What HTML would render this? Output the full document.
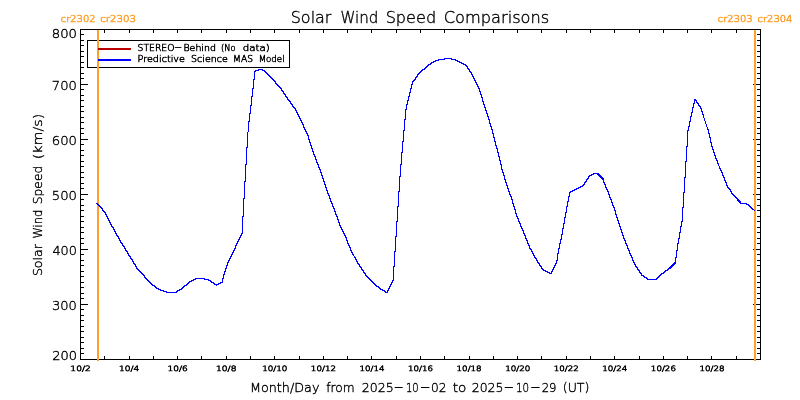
<!DOCTYPE html>
<html lang="en"><head><meta charset="utf-8"><title>Solar Wind Speed Comparisons</title>
<style>
html,body{margin:0;padding:0;background:#fff;}
body{width:800px;height:400px;overflow:hidden;}
svg{display:block;}
text{font-family:"DejaVu Sans","Liberation Sans",sans-serif;font-weight:200;fill:#000;stroke:#000;}
.o{fill:#ffa02c;stroke:#ffa02c;}
</style></head><body>
<svg width="800" height="400" viewBox="0 0 800 400">
<rect x="0" y="0" width="800" height="400" fill="#fff"/>
<g shape-rendering="crispEdges">
<rect x="80" y="29" width="681" height="1" fill="#000"/>
<rect x="80" y="359" width="681" height="1" fill="#000"/>
<rect x="80" y="29" width="1" height="331" fill="#000"/>
<rect x="760" y="29" width="1" height="331" fill="#000"/>
<rect x="104" y="356" width="1" height="3" fill="#000"/>
<rect x="104" y="30" width="1" height="3" fill="#000"/>
<rect x="129" y="356" width="1" height="3" fill="#000"/>
<rect x="129" y="30" width="1" height="3" fill="#000"/>
<rect x="153" y="356" width="1" height="3" fill="#000"/>
<rect x="153" y="30" width="1" height="3" fill="#000"/>
<rect x="177" y="356" width="1" height="3" fill="#000"/>
<rect x="177" y="30" width="1" height="3" fill="#000"/>
<rect x="201" y="356" width="1" height="3" fill="#000"/>
<rect x="201" y="30" width="1" height="3" fill="#000"/>
<rect x="226" y="356" width="1" height="3" fill="#000"/>
<rect x="226" y="30" width="1" height="3" fill="#000"/>
<rect x="250" y="356" width="1" height="3" fill="#000"/>
<rect x="250" y="30" width="1" height="3" fill="#000"/>
<rect x="274" y="356" width="1" height="3" fill="#000"/>
<rect x="274" y="30" width="1" height="3" fill="#000"/>
<rect x="299" y="356" width="1" height="3" fill="#000"/>
<rect x="299" y="30" width="1" height="3" fill="#000"/>
<rect x="323" y="356" width="1" height="3" fill="#000"/>
<rect x="323" y="30" width="1" height="3" fill="#000"/>
<rect x="347" y="356" width="1" height="3" fill="#000"/>
<rect x="347" y="30" width="1" height="3" fill="#000"/>
<rect x="371" y="356" width="1" height="3" fill="#000"/>
<rect x="371" y="30" width="1" height="3" fill="#000"/>
<rect x="396" y="356" width="1" height="3" fill="#000"/>
<rect x="396" y="30" width="1" height="3" fill="#000"/>
<rect x="420" y="356" width="1" height="3" fill="#000"/>
<rect x="420" y="30" width="1" height="3" fill="#000"/>
<rect x="444" y="356" width="1" height="3" fill="#000"/>
<rect x="444" y="30" width="1" height="3" fill="#000"/>
<rect x="469" y="356" width="1" height="3" fill="#000"/>
<rect x="469" y="30" width="1" height="3" fill="#000"/>
<rect x="493" y="356" width="1" height="3" fill="#000"/>
<rect x="493" y="30" width="1" height="3" fill="#000"/>
<rect x="517" y="356" width="1" height="3" fill="#000"/>
<rect x="517" y="30" width="1" height="3" fill="#000"/>
<rect x="541" y="356" width="1" height="3" fill="#000"/>
<rect x="541" y="30" width="1" height="3" fill="#000"/>
<rect x="566" y="356" width="1" height="3" fill="#000"/>
<rect x="566" y="30" width="1" height="3" fill="#000"/>
<rect x="590" y="356" width="1" height="3" fill="#000"/>
<rect x="590" y="30" width="1" height="3" fill="#000"/>
<rect x="614" y="356" width="1" height="3" fill="#000"/>
<rect x="614" y="30" width="1" height="3" fill="#000"/>
<rect x="639" y="356" width="1" height="3" fill="#000"/>
<rect x="639" y="30" width="1" height="3" fill="#000"/>
<rect x="663" y="356" width="1" height="3" fill="#000"/>
<rect x="663" y="30" width="1" height="3" fill="#000"/>
<rect x="687" y="356" width="1" height="3" fill="#000"/>
<rect x="687" y="30" width="1" height="3" fill="#000"/>
<rect x="711" y="356" width="1" height="3" fill="#000"/>
<rect x="711" y="30" width="1" height="3" fill="#000"/>
<rect x="736" y="356" width="1" height="3" fill="#000"/>
<rect x="736" y="30" width="1" height="3" fill="#000"/>
<rect x="81" y="34" width="3" height="1" fill="#000"/>
<rect x="757" y="34" width="3" height="1" fill="#000"/>
<rect x="81" y="40" width="3" height="1" fill="#000"/>
<rect x="757" y="40" width="3" height="1" fill="#000"/>
<rect x="81" y="45" width="3" height="1" fill="#000"/>
<rect x="757" y="45" width="3" height="1" fill="#000"/>
<rect x="81" y="51" width="3" height="1" fill="#000"/>
<rect x="757" y="51" width="3" height="1" fill="#000"/>
<rect x="81" y="56" width="3" height="1" fill="#000"/>
<rect x="757" y="56" width="3" height="1" fill="#000"/>
<rect x="81" y="62" width="3" height="1" fill="#000"/>
<rect x="757" y="62" width="3" height="1" fill="#000"/>
<rect x="81" y="67" width="3" height="1" fill="#000"/>
<rect x="757" y="67" width="3" height="1" fill="#000"/>
<rect x="81" y="73" width="3" height="1" fill="#000"/>
<rect x="757" y="73" width="3" height="1" fill="#000"/>
<rect x="81" y="78" width="3" height="1" fill="#000"/>
<rect x="757" y="78" width="3" height="1" fill="#000"/>
<rect x="81" y="84" width="7" height="1" fill="#000"/>
<rect x="753" y="84" width="7" height="1" fill="#000"/>
<rect x="81" y="89" width="3" height="1" fill="#000"/>
<rect x="757" y="89" width="3" height="1" fill="#000"/>
<rect x="81" y="95" width="3" height="1" fill="#000"/>
<rect x="757" y="95" width="3" height="1" fill="#000"/>
<rect x="81" y="100" width="3" height="1" fill="#000"/>
<rect x="757" y="100" width="3" height="1" fill="#000"/>
<rect x="81" y="106" width="3" height="1" fill="#000"/>
<rect x="757" y="106" width="3" height="1" fill="#000"/>
<rect x="81" y="111" width="3" height="1" fill="#000"/>
<rect x="757" y="111" width="3" height="1" fill="#000"/>
<rect x="81" y="117" width="3" height="1" fill="#000"/>
<rect x="757" y="117" width="3" height="1" fill="#000"/>
<rect x="81" y="122" width="3" height="1" fill="#000"/>
<rect x="757" y="122" width="3" height="1" fill="#000"/>
<rect x="81" y="128" width="3" height="1" fill="#000"/>
<rect x="757" y="128" width="3" height="1" fill="#000"/>
<rect x="81" y="133" width="3" height="1" fill="#000"/>
<rect x="757" y="133" width="3" height="1" fill="#000"/>
<rect x="81" y="139" width="7" height="1" fill="#000"/>
<rect x="753" y="139" width="7" height="1" fill="#000"/>
<rect x="81" y="144" width="3" height="1" fill="#000"/>
<rect x="757" y="144" width="3" height="1" fill="#000"/>
<rect x="81" y="150" width="3" height="1" fill="#000"/>
<rect x="757" y="150" width="3" height="1" fill="#000"/>
<rect x="81" y="155" width="3" height="1" fill="#000"/>
<rect x="757" y="155" width="3" height="1" fill="#000"/>
<rect x="81" y="161" width="3" height="1" fill="#000"/>
<rect x="757" y="161" width="3" height="1" fill="#000"/>
<rect x="81" y="166" width="3" height="1" fill="#000"/>
<rect x="757" y="166" width="3" height="1" fill="#000"/>
<rect x="81" y="172" width="3" height="1" fill="#000"/>
<rect x="757" y="172" width="3" height="1" fill="#000"/>
<rect x="81" y="177" width="3" height="1" fill="#000"/>
<rect x="757" y="177" width="3" height="1" fill="#000"/>
<rect x="81" y="183" width="3" height="1" fill="#000"/>
<rect x="757" y="183" width="3" height="1" fill="#000"/>
<rect x="81" y="188" width="3" height="1" fill="#000"/>
<rect x="757" y="188" width="3" height="1" fill="#000"/>
<rect x="81" y="194" width="7" height="1" fill="#000"/>
<rect x="753" y="194" width="7" height="1" fill="#000"/>
<rect x="81" y="199" width="3" height="1" fill="#000"/>
<rect x="757" y="199" width="3" height="1" fill="#000"/>
<rect x="81" y="205" width="3" height="1" fill="#000"/>
<rect x="757" y="205" width="3" height="1" fill="#000"/>
<rect x="81" y="210" width="3" height="1" fill="#000"/>
<rect x="757" y="210" width="3" height="1" fill="#000"/>
<rect x="81" y="216" width="3" height="1" fill="#000"/>
<rect x="757" y="216" width="3" height="1" fill="#000"/>
<rect x="81" y="221" width="3" height="1" fill="#000"/>
<rect x="757" y="221" width="3" height="1" fill="#000"/>
<rect x="81" y="227" width="3" height="1" fill="#000"/>
<rect x="757" y="227" width="3" height="1" fill="#000"/>
<rect x="81" y="232" width="3" height="1" fill="#000"/>
<rect x="757" y="232" width="3" height="1" fill="#000"/>
<rect x="81" y="238" width="3" height="1" fill="#000"/>
<rect x="757" y="238" width="3" height="1" fill="#000"/>
<rect x="81" y="243" width="3" height="1" fill="#000"/>
<rect x="757" y="243" width="3" height="1" fill="#000"/>
<rect x="81" y="249" width="7" height="1" fill="#000"/>
<rect x="753" y="249" width="7" height="1" fill="#000"/>
<rect x="81" y="254" width="3" height="1" fill="#000"/>
<rect x="757" y="254" width="3" height="1" fill="#000"/>
<rect x="81" y="260" width="3" height="1" fill="#000"/>
<rect x="757" y="260" width="3" height="1" fill="#000"/>
<rect x="81" y="265" width="3" height="1" fill="#000"/>
<rect x="757" y="265" width="3" height="1" fill="#000"/>
<rect x="81" y="271" width="3" height="1" fill="#000"/>
<rect x="757" y="271" width="3" height="1" fill="#000"/>
<rect x="81" y="276" width="3" height="1" fill="#000"/>
<rect x="757" y="276" width="3" height="1" fill="#000"/>
<rect x="81" y="282" width="3" height="1" fill="#000"/>
<rect x="757" y="282" width="3" height="1" fill="#000"/>
<rect x="81" y="287" width="3" height="1" fill="#000"/>
<rect x="757" y="287" width="3" height="1" fill="#000"/>
<rect x="81" y="293" width="3" height="1" fill="#000"/>
<rect x="757" y="293" width="3" height="1" fill="#000"/>
<rect x="81" y="298" width="3" height="1" fill="#000"/>
<rect x="757" y="298" width="3" height="1" fill="#000"/>
<rect x="81" y="304" width="7" height="1" fill="#000"/>
<rect x="753" y="304" width="7" height="1" fill="#000"/>
<rect x="81" y="309" width="3" height="1" fill="#000"/>
<rect x="757" y="309" width="3" height="1" fill="#000"/>
<rect x="81" y="315" width="3" height="1" fill="#000"/>
<rect x="757" y="315" width="3" height="1" fill="#000"/>
<rect x="81" y="320" width="3" height="1" fill="#000"/>
<rect x="757" y="320" width="3" height="1" fill="#000"/>
<rect x="81" y="326" width="3" height="1" fill="#000"/>
<rect x="757" y="326" width="3" height="1" fill="#000"/>
<rect x="81" y="331" width="3" height="1" fill="#000"/>
<rect x="757" y="331" width="3" height="1" fill="#000"/>
<rect x="81" y="337" width="3" height="1" fill="#000"/>
<rect x="757" y="337" width="3" height="1" fill="#000"/>
<rect x="81" y="342" width="3" height="1" fill="#000"/>
<rect x="757" y="342" width="3" height="1" fill="#000"/>
<rect x="81" y="348" width="3" height="1" fill="#000"/>
<rect x="757" y="348" width="3" height="1" fill="#000"/>
<rect x="81" y="353" width="3" height="1" fill="#000"/>
<rect x="757" y="353" width="3" height="1" fill="#000"/>
<rect x="87" y="40" width="203" height="1" fill="#000"/>
<rect x="87" y="67" width="203" height="1" fill="#000"/>
<rect x="87" y="40" width="1" height="28" fill="#000"/>
<rect x="289" y="40" width="1" height="28" fill="#000"/>
<rect x="97" y="30" width="2" height="331" fill="#ffa02c"/>
<rect x="754" y="30" width="2" height="331" fill="#ffa02c"/>
<rect x="98" y="48" width="33" height="2" fill="#bb0000"/>
<rect x="98" y="59" width="33" height="2" fill="#0000ff"/>
<path fill="#0000ff" d="M96 203h2v1h-2zM97 204h2v1h-2zM98 205h2v1h-2zM99 206h2v1h-2zM100 207h2v1h-2zM101 208h1v1h-1zM102 208h1v3h-1zM103 210h1v1h-1zM103 211h2v1h-2zM104 212h1v1h-1zM105 212h1v3h-1zM106 214h1v3h-1zM107 216h1v3h-1zM108 218h1v3h-1zM109 220h1v3h-1zM110 222h1v3h-1zM111 224h1v3h-1zM112 226h1v1h-1zM112 227h1v1h-1zM113 227h1v3h-1zM114 229h1v3h-1zM115 231h1v3h-1zM116 233h1v3h-1zM117 235h1v1h-1zM117 236h1v1h-1zM118 236h1v3h-1zM119 238h1v3h-1zM120 240h1v3h-1zM121 242h1v1h-1zM121 243h1v1h-1zM122 243h1v3h-1zM123 245h1v1h-1zM123 246h1v1h-1zM124 246h1v3h-1zM125 248h1v3h-1zM126 250h1v1h-1zM126 251h1v1h-1zM127 251h1v3h-1zM128 253h1v3h-1zM129 255h1v1h-1zM129 256h1v1h-1zM130 256h1v3h-1zM131 258h1v1h-1zM131 259h1v1h-1zM132 259h1v3h-1zM133 261h1v3h-1zM134 263h1v1h-1zM134 264h1v1h-1zM135 264h1v3h-1zM136 266h1v3h-1zM137 268h1v1h-1zM137 269h2v1h-2zM138 270h2v1h-2zM139 271h2v1h-2zM140 272h2v1h-2zM141 273h2v1h-2zM142 274h2v1h-2zM143 275h1v1h-1zM144 275h1v3h-1zM145 277h1v1h-1zM145 278h2v1h-2zM146 279h2v1h-2zM147 280h2v1h-2zM148 281h2v1h-2zM149 282h2v1h-2zM150 283h2v1h-2zM151 284h2v1h-2zM152 285h3v1h-3zM154 286h2v1h-2zM155 287h2v1h-2zM156 288h3v1h-3zM158 289h3v1h-3zM160 290h4v1h-4zM163 291h4v1h-4zM166 292h11v1h-11zM176 291h2v1h-2zM177 290h3v1h-3zM179 289h3v1h-3zM181 288h2v1h-2zM182 287h2v1h-2zM183 286h2v1h-2zM184 285h3v1h-3zM186 284h2v1h-2zM187 283h2v1h-2zM188 282h2v1h-2zM189 281h3v1h-3zM191 280h3v1h-3zM193 279h3v1h-3zM195 278h10v1h-10zM204 279h5v1h-5zM208 280h3v1h-3zM210 281h2v1h-2zM211 282h3v1h-3zM213 283h2v1h-2zM214 284h5v1h-5zM216 285h1v1h-1zM218 283h3v1h-3zM220 282h2v1h-2zM222 278h1v5h-1zM223 274h1v5h-1zM224 271h1v4h-1zM225 268h1v4h-1zM226 265h1v4h-1zM227 262h1v4h-1zM228 260h1v3h-1zM229 258h1v3h-1zM230 256h1v3h-1zM231 254h1v3h-1zM232 252h1v3h-1zM233 250h1v3h-1zM234 248h1v3h-1zM235 245h1v4h-1zM236 243h1v3h-1zM237 241h1v3h-1zM238 239h1v3h-1zM239 237h1v3h-1zM240 235h1v3h-1zM241 233h1v3h-1zM242 216h1v18h-1zM243 198h1v19h-1zM244 181h1v18h-1zM245 164h1v18h-1zM246 147h1v18h-1zM247 132h1v16h-1zM248 121h1v11h-1zM249 113h1v9h-1zM250 105h1v9h-1zM251 96h1v10h-1zM252 88h1v9h-1zM253 79h1v10h-1zM254 71h1v9h-1zM255 70h4v1h-4zM255 71h1v1h-1zM258 69h5v1h-5zM262 70h3v1h-3zM264 71h2v1h-2zM265 72h2v1h-2zM266 73h2v1h-2zM267 74h2v1h-2zM268 75h2v1h-2zM269 76h2v1h-2zM270 77h2v1h-2zM271 78h2v1h-2zM272 79h2v1h-2zM273 80h2v1h-2zM274 81h1v1h-1zM275 81h1v3h-1zM276 83h1v1h-1zM276 84h2v1h-2zM277 85h2v1h-2zM278 86h2v1h-2zM279 87h2v1h-2zM280 88h1v1h-1zM281 88h1v3h-1zM282 90h1v1h-1zM282 91h1v1h-1zM283 91h1v3h-1zM284 93h1v1h-1zM284 94h1v1h-1zM285 94h1v3h-1zM286 96h1v1h-1zM286 97h1v1h-1zM287 97h1v3h-1zM288 99h1v1h-1zM288 100h2v1h-2zM289 101h1v1h-1zM290 101h1v3h-1zM291 103h1v1h-1zM291 104h1v1h-1zM292 104h1v3h-1zM293 106h1v1h-1zM293 107h2v1h-2zM294 108h1v1h-1zM295 108h1v3h-1zM296 110h1v3h-1zM297 112h1v3h-1zM298 114h1v3h-1zM299 116h1v3h-1zM300 118h1v3h-1zM301 120h1v3h-1zM302 122h1v3h-1zM303 124h1v4h-1zM304 127h1v3h-1zM305 129h1v3h-1zM306 131h1v3h-1zM307 133h1v3h-1zM308 135h1v5h-1zM309 139h1v4h-1zM310 142h1v4h-1zM311 145h1v4h-1zM312 148h1v4h-1zM313 151h1v4h-1zM314 154h1v3h-1zM315 156h1v4h-1zM316 159h1v4h-1zM317 162h1v3h-1zM318 164h1v4h-1zM319 167h1v3h-1zM320 169h1v4h-1zM321 172h1v4h-1zM322 175h1v4h-1zM323 178h1v4h-1zM324 181h1v4h-1zM325 184h1v4h-1zM326 187h1v4h-1zM327 190h1v4h-1zM328 193h1v3h-1zM329 195h1v4h-1zM330 198h1v4h-1zM331 201h1v3h-1zM332 203h1v4h-1zM333 206h1v3h-1zM334 208h1v4h-1zM335 211h1v4h-1zM336 214h1v3h-1zM337 216h1v4h-1zM338 219h1v4h-1zM339 222h1v4h-1zM340 225h1v3h-1zM341 227h1v3h-1zM342 229h1v3h-1zM343 231h1v3h-1zM344 233h1v3h-1zM345 235h1v3h-1zM346 237h1v4h-1zM347 240h1v4h-1zM348 243h1v3h-1zM349 245h1v3h-1zM350 247h1v4h-1zM351 250h1v3h-1zM352 252h1v3h-1zM353 254h1v1h-1zM353 255h1v1h-1zM354 256h1v1h-1zM354 257h1v1h-1zM355 257h1v3h-1zM356 259h1v3h-1zM357 261h1v3h-1zM358 263h1v1h-1zM358 264h1v1h-1zM359 264h1v3h-1zM360 266h1v1h-1zM360 267h1v1h-1zM361 267h1v3h-1zM362 269h1v1h-1zM362 270h1v1h-1zM363 270h1v3h-1zM364 272h1v1h-1zM364 273h1v1h-1zM365 273h1v3h-1zM366 275h1v1h-1zM366 276h2v1h-2zM367 277h2v1h-2zM368 278h2v1h-2zM369 279h2v1h-2zM370 280h2v1h-2zM371 281h2v1h-2zM372 282h2v1h-2zM373 283h2v1h-2zM374 284h2v1h-2zM375 285h2v1h-2zM376 286h3v1h-3zM378 287h2v1h-2zM379 288h2v1h-2zM380 289h3v1h-3zM382 290h3v1h-3zM384 291h2v1h-2zM385 292h2v1h-2zM387 290h1v3h-1zM388 288h1v3h-1zM389 286h1v3h-1zM390 284h1v3h-1zM391 282h1v3h-1zM392 280h1v3h-1zM393 266h1v15h-1zM394 251h1v16h-1zM395 236h1v16h-1zM396 221h1v16h-1zM397 206h1v16h-1zM398 191h1v16h-1zM399 176h1v16h-1zM400 164h1v13h-1zM401 152h1v13h-1zM402 141h1v12h-1zM403 130h1v12h-1zM404 119h1v12h-1zM405 109h1v11h-1zM406 104h1v6h-1zM407 100h1v5h-1zM408 96h1v5h-1zM409 92h1v5h-1zM410 88h1v5h-1zM411 84h1v5h-1zM412 81h1v4h-1zM413 80h2v1h-2zM413 81h1v1h-1zM414 79h1v1h-1zM415 77h1v3h-1zM416 76h1v1h-1zM416 77h1v1h-1zM417 74h1v3h-1zM418 73h2v1h-2zM418 74h1v1h-1zM419 72h2v1h-2zM420 71h2v1h-2zM421 70h2v1h-2zM422 69h3v1h-3zM424 68h2v1h-2zM425 67h2v1h-2zM426 66h2v1h-2zM427 65h2v1h-2zM428 64h3v1h-3zM430 63h2v1h-2zM431 62h3v1h-3zM433 61h3v1h-3zM435 60h4v1h-4zM438 59h7v1h-7zM444 58h8v1h-8zM451 59h5v1h-5zM455 60h3v1h-3zM457 61h3v1h-3zM459 62h3v1h-3zM461 63h3v1h-3zM463 64h3v1h-3zM465 65h2v1h-2zM466 66h1v1h-1zM467 66h1v3h-1zM468 68h1v1h-1zM468 69h1v1h-1zM469 69h1v3h-1zM470 71h1v1h-1zM470 72h1v1h-1zM471 72h1v3h-1zM472 74h1v3h-1zM473 76h1v3h-1zM474 78h1v3h-1zM475 80h1v3h-1zM476 82h1v3h-1zM477 84h1v3h-1zM478 86h1v3h-1zM479 88h1v4h-1zM480 91h1v4h-1zM481 94h1v4h-1zM482 97h1v5h-1zM483 101h1v4h-1zM484 104h1v4h-1zM485 107h1v4h-1zM486 110h1v4h-1zM487 113h1v4h-1zM488 116h1v4h-1zM489 119h1v5h-1zM490 123h1v4h-1zM491 126h1v4h-1zM492 129h1v5h-1zM493 133h1v5h-1zM494 137h1v5h-1zM495 141h1v5h-1zM496 145h1v4h-1zM497 148h1v5h-1zM498 152h1v5h-1zM499 156h1v5h-1zM500 160h1v5h-1zM501 164h1v6h-1zM502 169h1v4h-1zM503 172h1v4h-1zM504 175h1v5h-1zM505 179h1v4h-1zM506 182h1v4h-1zM507 185h1v4h-1zM508 188h1v4h-1zM509 191h1v4h-1zM510 194h1v3h-1zM511 196h1v4h-1zM512 199h1v5h-1zM513 203h1v4h-1zM514 206h1v4h-1zM515 209h1v5h-1zM516 213h1v4h-1zM517 216h1v3h-1zM518 218h1v4h-1zM519 221h1v3h-1zM520 223h1v4h-1zM521 226h1v3h-1zM522 228h1v3h-1zM523 230h1v4h-1zM524 233h1v3h-1zM525 235h1v4h-1zM526 238h1v3h-1zM527 240h1v4h-1zM528 243h1v3h-1zM529 245h1v4h-1zM530 248h1v1h-1zM530 249h1v1h-1zM531 249h1v3h-1zM532 251h1v3h-1zM533 253h1v3h-1zM534 255h1v3h-1zM535 257h1v1h-1zM535 258h1v1h-1zM536 258h1v3h-1zM537 260h1v3h-1zM538 262h1v1h-1zM538 263h1v1h-1zM539 263h1v3h-1zM540 265h1v1h-1zM540 266h1v1h-1zM541 266h1v3h-1zM542 268h1v1h-1zM542 269h2v1h-2zM543 270h3v1h-3zM545 271h3v1h-3zM547 272h3v1h-3zM549 273h2v1h-2zM551 271h1v3h-1zM552 269h1v3h-1zM553 267h1v3h-1zM554 265h1v3h-1zM555 263h1v3h-1zM556 260h1v4h-1zM557 253h1v8h-1zM558 248h1v6h-1zM559 243h1v6h-1zM560 239h1v5h-1zM561 234h1v6h-1zM562 228h1v7h-1zM563 223h1v6h-1zM564 217h1v7h-1zM565 212h1v6h-1zM566 206h1v7h-1zM567 201h1v6h-1zM568 196h1v6h-1zM569 192h1v5h-1zM570 191h3v1h-3zM570 192h1v1h-1zM572 190h3v1h-3zM574 189h3v1h-3zM576 188h3v1h-3zM578 187h3v1h-3zM580 186h3v1h-3zM582 185h2v1h-2zM583 184h1v1h-1zM584 182h1v3h-1zM585 181h1v1h-1zM585 182h1v1h-1zM586 179h1v3h-1zM587 178h1v1h-1zM587 179h1v1h-1zM588 176h1v3h-1zM589 175h3v1h-3zM589 176h1v1h-1zM591 174h3v1h-3zM593 173h5v1h-5zM597 174h1v1h-1zM598 173h1v3h-1zM599 174h1v3h-1zM600 175h1v3h-1zM601 176h1v3h-1zM602 177h1v3h-1zM603 178h1v5h-1zM604 182h1v3h-1zM605 184h1v4h-1zM606 187h1v3h-1zM607 189h1v3h-1zM608 191h1v4h-1zM609 194h1v4h-1zM610 197h1v3h-1zM611 199h1v4h-1zM612 202h1v4h-1zM613 205h1v3h-1zM614 207h1v4h-1zM615 210h1v5h-1zM616 214h1v4h-1zM617 217h1v4h-1zM618 220h1v4h-1zM619 223h1v4h-1zM620 226h1v4h-1zM621 229h1v4h-1zM622 232h1v4h-1zM623 235h1v4h-1zM624 238h1v3h-1zM625 240h1v4h-1zM626 243h1v3h-1zM627 245h1v4h-1zM628 248h1v3h-1zM629 250h1v4h-1zM630 253h1v3h-1zM631 255h1v3h-1zM632 257h1v4h-1zM633 260h1v3h-1zM634 262h1v3h-1zM635 264h1v3h-1zM636 266h1v1h-1zM636 267h1v1h-1zM637 267h1v3h-1zM638 269h1v1h-1zM638 270h1v1h-1zM639 270h1v3h-1zM640 272h1v1h-1zM640 273h1v1h-1zM641 273h1v3h-1zM642 275h2v1h-2zM643 276h2v1h-2zM644 277h3v1h-3zM646 278h2v1h-2zM647 279h10v1h-10zM656 278h2v1h-2zM657 277h2v1h-2zM658 276h2v1h-2zM659 275h2v1h-2zM660 274h2v1h-2zM661 273h3v1h-3zM663 272h2v1h-2zM664 271h2v1h-2zM665 270h3v1h-3zM667 269h2v1h-2zM668 268h2v1h-2zM669 267h1v1h-1zM670 266h1v3h-1zM671 265h1v3h-1zM672 264h1v3h-1zM673 263h1v3h-1zM674 262h1v3h-1zM675 257h1v7h-1zM676 250h1v8h-1zM677 243h1v8h-1zM678 238h1v6h-1zM679 232h1v7h-1zM680 226h1v7h-1zM681 221h1v6h-1zM682 207h1v15h-1zM683 192h1v16h-1zM684 177h1v16h-1zM685 161h1v17h-1zM686 146h1v16h-1zM687 130h1v17h-1zM688 126h1v5h-1zM689 121h1v6h-1zM690 116h1v6h-1zM691 112h1v5h-1zM692 107h1v6h-1zM693 103h1v5h-1zM694 99h1v5h-1zM695 99h1v1h-1zM695 100h1v1h-1zM696 100h1v3h-1zM697 102h1v1h-1zM697 103h1v1h-1zM698 103h1v3h-1zM699 105h1v1h-1zM699 106h1v1h-1zM700 106h1v3h-1zM701 108h1v4h-1zM702 111h1v4h-1zM703 114h1v4h-1zM704 118h1v3h-1zM705 121h1v3h-1zM706 124h1v3h-1zM707 127h1v3h-1zM708 129h1v5h-1zM709 133h1v5h-1zM710 137h1v6h-1zM711 142h1v5h-1zM712 146h1v4h-1zM713 149h1v4h-1zM714 152h1v4h-1zM715 155h1v4h-1zM716 158h1v3h-1zM717 160h1v4h-1zM718 163h1v3h-1zM719 166h1v3h-1zM720 168h1v3h-1zM721 170h1v3h-1zM722 172h1v4h-1zM723 175h1v3h-1zM724 177h1v4h-1zM725 180h1v3h-1zM726 182h1v4h-1zM727 185h1v3h-1zM728 187h1v1h-1zM728 188h2v1h-2zM729 189h1v1h-1zM730 189h1v3h-1zM731 191h1v3h-1zM732 193h1v1h-1zM732 194h2v1h-2zM733 195h2v1h-2zM734 196h2v1h-2zM735 197h2v1h-2zM736 198h1v1h-1zM737 198h1v3h-1zM738 199h1v3h-1zM739 200h1v3h-1zM740 201h1v3h-1zM741 203h6v1h-6zM746 204h3v1h-3zM748 205h2v1h-2zM749 206h2v1h-2zM750 207h2v1h-2zM751 208h2v1h-2zM752 209h2v1h-2zM754 210h1v1h-1z"/>
</g>
<g>
<text font-size="15.94" stroke-width="0.38"><tspan x="290.76" y="22.81" textLength="40.65" lengthAdjust="spacingAndGlyphs">Solar</tspan> <tspan x="340.39" y="22.81" textLength="37.91" lengthAdjust="spacingAndGlyphs">Wind</tspan> <tspan x="385.65" y="22.81" textLength="50.55" lengthAdjust="spacingAndGlyphs">Speed</tspan> <tspan x="443.69" y="22.81" textLength="105.57" lengthAdjust="spacingAndGlyphs">Comparisons</tspan></text>
<text font-size="12.65" stroke-width="0.38"><tspan x="249.95" y="391.81" textLength="69.52" lengthAdjust="spacingAndGlyphs">Month/Day</tspan> <tspan x="326.3" y="391.81" textLength="28.38" lengthAdjust="spacingAndGlyphs">from</tspan> <tspan x="361.69" y="391.81" textLength="31.96" lengthAdjust="spacingAndGlyphs">2025</tspan><tspan x="393.85" y="390.75" textLength="9.82" lengthAdjust="spacingAndGlyphs">-</tspan><tspan x="405.99" y="391.81" textLength="12.68" lengthAdjust="spacingAndGlyphs">10</tspan><tspan x="420.04" y="390.75" textLength="10.34" lengthAdjust="spacingAndGlyphs">-</tspan><tspan x="431.12" y="391.81" textLength="15.46" lengthAdjust="spacingAndGlyphs">02</tspan> <tspan x="452.65" y="391.81" textLength="13.64" lengthAdjust="spacingAndGlyphs">to</tspan> <tspan x="471.74" y="391.81" textLength="31.69" lengthAdjust="spacingAndGlyphs">2025</tspan><tspan x="503.77" y="390.75" textLength="10.08" lengthAdjust="spacingAndGlyphs">-</tspan><tspan x="515.96" y="391.81" textLength="13.14" lengthAdjust="spacingAndGlyphs">10</tspan><tspan x="530.34" y="390.75" textLength="10.34" lengthAdjust="spacingAndGlyphs">-</tspan><tspan x="541.69" y="391.81" textLength="14.82" lengthAdjust="spacingAndGlyphs">29</tspan> <tspan x="562.73" y="391.81" textLength="26.74" lengthAdjust="spacingAndGlyphs">(UT)</tspan></text>
<text font-size="12.92" stroke-width="0.38" transform="matrix(0 -1 1 0 42.11 0)"><tspan x="-276.12" y="0" textLength="32.01" lengthAdjust="spacingAndGlyphs">Solar</tspan> <tspan x="-238.6" y="0" textLength="28.86" lengthAdjust="spacingAndGlyphs">Wind</tspan> <tspan x="-204.19" y="0" textLength="38.38" lengthAdjust="spacingAndGlyphs">Speed</tspan> <tspan x="-159.34" y="0" textLength="45.58" lengthAdjust="spacingAndGlyphs">(km/s)</tspan></text>
<text font-size="11.95" stroke-width="0.39"><tspan x="51.76" y="37.91" textLength="25.19" lengthAdjust="spacingAndGlyphs">800</tspan></text>
<text font-size="13.06" stroke-width="0.38"><tspan x="51.89" y="89.81" textLength="25.05" lengthAdjust="spacingAndGlyphs">700</tspan></text>
<text font-size="13.06" stroke-width="0.38"><tspan x="51.75" y="144.81" textLength="25.2" lengthAdjust="spacingAndGlyphs">600</tspan></text>
<text font-size="13.06" stroke-width="0.38"><tspan x="51.75" y="199.81" textLength="25.2" lengthAdjust="spacingAndGlyphs">500</tspan></text>
<text font-size="13.06" stroke-width="0.38"><tspan x="52.43" y="254.81" textLength="24.49" lengthAdjust="spacingAndGlyphs">400</tspan></text>
<text font-size="13.06" stroke-width="0.38"><tspan x="52.03" y="309.81" textLength="24.91" lengthAdjust="spacingAndGlyphs">300</tspan></text>
<text font-size="11.8" stroke-width="0.39"><tspan x="52.17" y="359.8" textLength="24.75" lengthAdjust="spacingAndGlyphs">200</tspan></text>
<text font-size="7.29" stroke-width="0.59"><tspan x="70.38" y="370.71" textLength="20.4" lengthAdjust="spacingAndGlyphs">10/2</tspan></text>
<text font-size="7.29" stroke-width="0.59"><tspan x="118.96" y="370.71" textLength="20.2" lengthAdjust="spacingAndGlyphs">10/4</tspan></text>
<text font-size="7.29" stroke-width="0.59"><tspan x="167.53" y="370.71" textLength="20.3" lengthAdjust="spacingAndGlyphs">10/6</tspan></text>
<text font-size="7.29" stroke-width="0.59"><tspan x="216.1" y="370.71" textLength="20.3" lengthAdjust="spacingAndGlyphs">10/8</tspan></text>
<text font-size="7.29" stroke-width="0.59"><tspan x="262.31" y="370.71" textLength="25.03" lengthAdjust="spacingAndGlyphs">10/10</tspan></text>
<text font-size="7.29" stroke-width="0.59"><tspan x="310.88" y="370.71" textLength="25.13" lengthAdjust="spacingAndGlyphs">10/12</tspan></text>
<text font-size="7.29" stroke-width="0.59"><tspan x="359.46" y="370.71" textLength="24.94" lengthAdjust="spacingAndGlyphs">10/14</tspan></text>
<text font-size="7.29" stroke-width="0.59"><tspan x="408.02" y="370.71" textLength="25.03" lengthAdjust="spacingAndGlyphs">10/16</tspan></text>
<text font-size="7.29" stroke-width="0.59"><tspan x="456.6" y="370.71" textLength="25.03" lengthAdjust="spacingAndGlyphs">10/18</tspan></text>
<text font-size="7.29" stroke-width="0.59"><tspan x="505.17" y="370.71" textLength="25.03" lengthAdjust="spacingAndGlyphs">10/20</tspan></text>
<text font-size="7.29" stroke-width="0.59"><tspan x="553.74" y="370.71" textLength="25.13" lengthAdjust="spacingAndGlyphs">10/22</tspan></text>
<text font-size="7.29" stroke-width="0.59"><tspan x="602.31" y="370.71" textLength="24.94" lengthAdjust="spacingAndGlyphs">10/24</tspan></text>
<text font-size="7.29" stroke-width="0.59"><tspan x="650.88" y="370.71" textLength="25.03" lengthAdjust="spacingAndGlyphs">10/26</tspan></text>
<text font-size="7.29" stroke-width="0.59"><tspan x="699.45" y="370.71" textLength="25.03" lengthAdjust="spacingAndGlyphs">10/28</tspan></text>
<text font-size="8.45" stroke-width="0.54" class="o"><tspan x="60.67" y="22.33" textLength="35.02" lengthAdjust="spacingAndGlyphs">cr2302</tspan> <tspan x="100.26" y="22.33" textLength="35.7" lengthAdjust="spacingAndGlyphs">cr2303</tspan></text>
<text font-size="8.45" stroke-width="0.54" class="o"><tspan x="717.67" y="22.33" textLength="35.02" lengthAdjust="spacingAndGlyphs">cr2303</tspan> <tspan x="757.42" y="22.33" textLength="35.08" lengthAdjust="spacingAndGlyphs">cr2304</tspan></text>
<text font-size="9.33" stroke-width="0.5"><tspan x="137.51" y="51.15" textLength="36.96" lengthAdjust="spacingAndGlyphs">STEREO</tspan><tspan x="174.39" y="50.35" textLength="7.73" lengthAdjust="spacingAndGlyphs">-</tspan><tspan x="183.42" y="51.15" textLength="32.52" lengthAdjust="spacingAndGlyphs">Behind</tspan> <tspan x="221.12" y="51.15" textLength="14.53" lengthAdjust="spacingAndGlyphs">(No</tspan> <tspan x="242.73" y="51.15" textLength="27.15" lengthAdjust="spacingAndGlyphs">data)</tspan></text>
<text font-size="9.33" stroke-width="0.5"><tspan x="137.6" y="61.75" textLength="47.38" lengthAdjust="spacingAndGlyphs">Predictive</tspan> <tspan x="190.99" y="61.75" textLength="36.88" lengthAdjust="spacingAndGlyphs">Science</tspan> <tspan x="233.09" y="61.75" textLength="19.95" lengthAdjust="spacingAndGlyphs">MAS</tspan> <tspan x="258.67" y="61.75" textLength="25.9" lengthAdjust="spacingAndGlyphs">Model</tspan></text>
</g>
</svg></body></html>
